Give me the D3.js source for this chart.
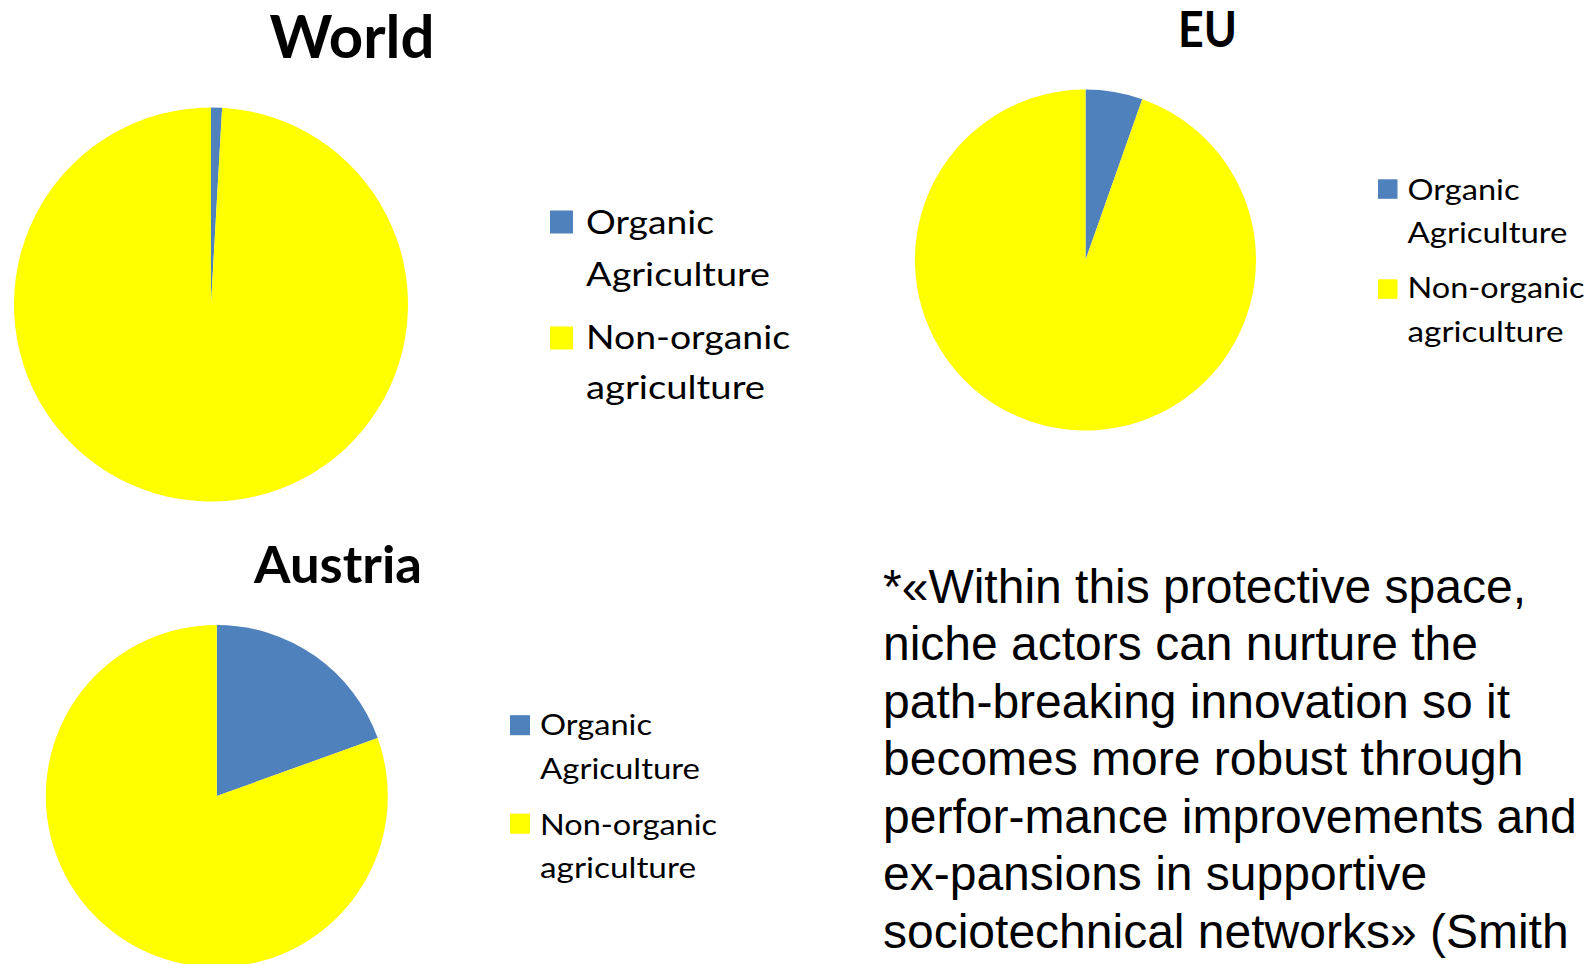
<!DOCTYPE html>
<html>
<head>
<meta charset="utf-8">
<script src="https://cdn.jsdelivr.net/npm/d3@7"></script>
<style>
  html, body { margin: 0; padding: 0; background: #fff; }
  svg { display: block; }
</style>
</head>
<body>
<svg id="chart" width="1595" height="964"></svg>
<script>
// Share of agricultural land under organic farming (%)
const regions = ["World", "EU", "Austria"];
const categories = ["Organic Agriculture", "Non-organic agriculture"];
const organicShare = [0.9, 5.4, 19.5];
const nonOrganicShare = [99.1, 94.6, 80.5];
const legendLines = [["Organic", "Agriculture"], ["Non-organic", "agriculture"]];

const quoteLines = [
  "*\u00ABWithin this protective space,",
  "niche actors can nurture the",
  "path-breaking innovation so it",
  "becomes more robust through",
  "perfor-mance improvements and",
  "ex-pansions in supportive",
  "sociotechnical networks\u00BB (Smith"
];

const colors = d3.scaleOrdinal().domain(categories).range(["#4F81BD", "#FFFF00"]);

// Panel layout: pie centre/radius, title, legend placement
const panels = [
  { cx: 211, cy: 304.5, r: 197, titleX: 352, titleY: 58, titleSize: 60, titleW: 165,
    lx: 550, sq: 23, sqY: [210.5, 326.5], tx: 586, base: [234, 285.5, 349, 398.5],
    fs: 32.5, widths: [128, 184, 204, 179] },
  { cx: 1085.5, cy: 260, r: 170.5, titleX: 1207.5, titleY: 46.7, titleSize: 49, titleW: 59,
    lx: 1378, sq: 19.5, sqY: [179.3, 279.3], tx: 1407.5, base: [200, 242.5, 298, 342],
    fs: 29.3, widths: [112, 160, 177, 156] },
  { cx: 216.8, cy: 796, r: 171, titleX: 338, titleY: 582.7, titleSize: 51, titleW: 168,
    lx: 510, sq: 20, sqY: [715.2, 813.7], tx: 540, base: [735, 779.3, 835, 878],
    fs: 29.3, widths: [112, 160, 177, 156] }
];

const svg = d3.select("#chart");

const pie = d3.pie().sort(null).value(d => d.value).startAngle(0).endAngle(2 * Math.PI);

regions.forEach((region, i) => {
  const p = panels[i];
  const data = categories.map((c, k) => ({ key: c, value: k === 0 ? organicShare[i] : nonOrganicShare[i] }));
  const arc = d3.arc().innerRadius(0).outerRadius(p.r);

  const g = svg.append("g").attr("transform", `translate(${p.cx},${p.cy})`);
  g.selectAll("path")
    .data(pie(data))
    .join("path")
    .attr("d", arc)
    .attr("fill", d => colors(d.data.key));

  // Title
  svg.append("text")
    .attr("x", p.titleX)
    .attr("y", p.titleY)
    .attr("text-anchor", "middle")
    .attr("font-family", "Lato, 'Open Sans', sans-serif")
    .attr("font-weight", 700)
    .attr("font-size", p.titleSize)
    .attr("textLength", p.titleW)
    .attr("lengthAdjust", "spacingAndGlyphs")
    .attr("fill", "#000")
    .text(region);

  // Legend
  const lg = svg.append("g");
  categories.forEach((c, k) => {
    lg.append("rect")
      .attr("x", p.lx)
      .attr("y", p.sqY[k])
      .attr("width", p.sq)
      .attr("height", p.sq)
      .attr("fill", colors(c));
    legendLines[k].forEach((line, j) => {
      const idx = k * 2 + j;
      lg.append("text")
        .attr("x", p.tx)
        .attr("y", p.base[idx])
        .attr("font-family", "Lato, 'Open Sans', sans-serif")
        .attr("font-size", p.fs)
        .attr("textLength", p.widths[idx])
        .attr("lengthAdjust", "spacingAndGlyphs")
        .attr("fill", "#000")
        .text(line);
    });
  });
});

// Quotation block
const q = svg.append("g");
q.selectAll("text")
  .data(quoteLines)
  .join("text")
  .attr("x", 883)
  .attr("y", (d, i) => 602.5 + i * 57.5)
  .attr("font-family", "'Liberation Sans', Arial, sans-serif")
  .attr("font-size", 48)
  .attr("fill", "#000")
  .text(d => d);
</script>
</body>
</html>
